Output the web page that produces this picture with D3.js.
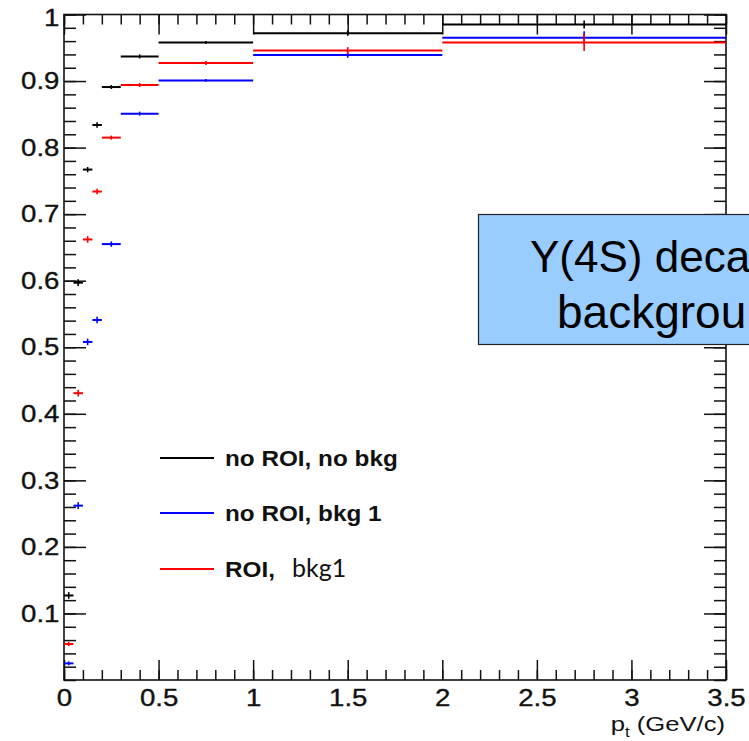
<!DOCTYPE html>
<html>
<head>
<meta charset="utf-8">
<script src="https://cdn.jsdelivr.net/npm/d3@7"></script>
<style>
body { margin: 0; background: #fff; }
svg { display: block; font-family: "Liberation Sans", Arial, sans-serif; }
.axis path { display: none; }
.axis line { stroke: #111; stroke-width: 1.5; }
.axis text { font-size: 24px; fill: #111; stroke: #111; stroke-width: 0.35; }
</style>
</head>
<body>
<svg id="chart" width="749" height="741"></svg>
<script>
// pt bins (GeV/c)
var binLo = [0, 0.05, 0.1, 0.15, 0.2, 0.3, 0.5, 1, 2];
var binHi = [0.05, 0.1, 0.15, 0.2, 0.3, 0.5, 1, 2, 3.5];

// efficiencies
var noRoiNoBkg  = [0.127, 0.597, 0.767, 0.834, 0.891, 0.937, 0.958, 0.972, 0.985];
var noRoiNoBkgE = [0.005, 0.005, 0.004, 0.004, 0.003, 0.003, 0.002, 0.004, 0.006];
var noRoiBkg1   = [0.025, 0.262, 0.508, 0.541, 0.655, 0.851, 0.901, 0.939, 0.965];
var noRoiBkg1E  = [0.003, 0.005, 0.005, 0.005, 0.004, 0.003, 0.002, 0.004, 0.010];
var roiBkg1     = [0.054, 0.431, 0.662, 0.734, 0.815, 0.894, 0.927, 0.946, 0.958];
var roiBkg1E    = [0.003, 0.005, 0.005, 0.004, 0.003, 0.003, 0.003, 0.005, 0.013];

var xMajor = [0, 0.5, 1, 1.5, 2, 2.5, 3, 3.5];
var yMajor = [0.1, 0.2, 0.3, 0.4, 0.5, 0.6, 0.7, 0.8, 0.9, 1];

var series = [
	{ name: "no ROI, no bkg", color: "#000000", val: noRoiNoBkg, err: noRoiNoBkgE },
	{ name: "no ROI, bkg 1",  color: "#0000ff", val: noRoiBkg1,  err: noRoiBkg1E },
	{ name: "ROI,",           color: "#ff0000", val: roiBkg1,    err: roiBkg1E, extra: "bkg1" }
];

var svg = d3.select("#chart");

// frame edges (window.top is reserved, so no "top" here)
var fLeft = 64, fRight = 726, fTop = 14.5, fBottom = 680;
var stretch = 1.15;	// the original picture is a bit wider than tall

var x = d3.scaleLinear().domain([0, 3.5]).range([fLeft, fRight]);
var y = d3.scaleLinear().domain([0, 1]).range([fBottom, fTop]);

var xMinor = d3.range(0, 3.501, 0.1).map(d => +d.toFixed(2));
var yMinor = d3.range(0, 1.001, 0.02).map(d => +d.toFixed(2));

// minor ticks, all four sides
svg.append("g").attr("class", "axis")
	.attr("transform", "translate(0," + fBottom + ")")
	.call(d3.axisBottom(x).tickValues(xMinor).tickSizeInner(-10).tickSizeOuter(0).tickFormat(""));
svg.append("g").attr("class", "axis")
	.attr("transform", "translate(0," + fTop + ")")
	.call(d3.axisTop(x).tickValues(xMinor).tickSizeInner(-10).tickSizeOuter(0).tickFormat(""));
svg.append("g").attr("class", "axis")
	.attr("transform", "translate(" + fLeft + ",0)")
	.call(d3.axisLeft(y).tickValues(yMinor).tickSizeInner(-12).tickSizeOuter(0).tickFormat(""));
svg.append("g").attr("class", "axis")
	.attr("transform", "translate(" + fRight + ",0)")
	.call(d3.axisRight(y).tickValues(yMinor).tickSizeInner(-12).tickSizeOuter(0).tickFormat(""));

// major ticks + labels
var xAx = svg.append("g").attr("class", "axis")
	.attr("transform", "translate(0," + fBottom + ")")
	.call(d3.axisBottom(x).tickValues(xMajor).tickSizeInner(-20).tickSizeOuter(0)
		.tickPadding(9).tickFormat(d3.format("")));
xAx.selectAll("text").attr("transform", "scale(" + stretch + ",1)");
svg.append("g").attr("class", "axis")
	.attr("transform", "translate(0," + fTop + ")")
	.call(d3.axisTop(x).tickValues(xMajor).tickSizeInner(-20).tickSizeOuter(0).tickFormat(""));
var yAx = svg.append("g").attr("class", "axis")
	.attr("transform", "translate(" + fLeft + ",0)")
	.call(d3.axisLeft(y).tickValues(yMajor).tickSizeInner(-22).tickSizeOuter(0)
		.tickPadding(4).tickFormat(d3.format("")));
yAx.selectAll("text").attr("transform", "scale(" + stretch + ",1)");
yAx.selectAll("text").filter(d => d == 1).attr("dy", "0.45em");
svg.append("g").attr("class", "axis")
	.attr("transform", "translate(" + fRight + ",0)")
	.call(d3.axisRight(y).tickValues(yMajor).tickSizeInner(-22).tickSizeOuter(0).tickFormat(""));

// frame
svg.append("rect")
	.attr("x", fLeft).attr("y", fTop)
	.attr("width", fRight - fLeft).attr("height", fBottom - fTop)
	.attr("fill", "none").attr("stroke", "#111").attr("stroke-width", 1.6);

// histograms drawn as error crosses
series.forEach(function(s) {
	var g = svg.append("g").attr("stroke", s.color).attr("stroke-width", 2);
	var idx = d3.range(binLo.length);
	g.selectAll("line.h").data(idx).enter().append("line")
		.attr("class", "h")
		.attr("x1", i => x(binLo[i])).attr("x2", i => x(binHi[i]))
		.attr("y1", i => y(s.val[i])).attr("y2", i => y(s.val[i]));
	g.selectAll("line.v").data(idx).enter().append("line")
		.attr("class", "v")
		.attr("stroke-width", 1.6)
		.attr("x1", i => x((binLo[i] + binHi[i]) / 2)).attr("x2", i => x((binLo[i] + binHi[i]) / 2))
		.attr("y1", i => y(s.val[i] - s.err[i])).attr("y2", i => y(s.val[i] + s.err[i]));
});

// legend
var legY = [458, 513, 569];
series.forEach(function(s, i) {
	svg.append("line")
		.attr("x1", 160).attr("x2", 214)
		.attr("y1", legY[i]).attr("y2", legY[i])
		.attr("stroke", s.color).attr("stroke-width", 1.8);
	svg.append("text")
		.attr("transform", "translate(225," + (legY[i] + 8) + ") scale(1.13,1)")
		.attr("font-size", "21.5px").attr("font-weight", "bold").attr("fill", "#111")
		.text(s.name);
	if (s.extra) {
		svg.append("text")
			.attr("x", 292).attr("y", legY[i] + 8)
			.attr("font-family", "Lato, 'Open Sans', sans-serif")
			.attr("font-size", "25px").attr("fill", "#111")
			.text(s.extra);
	}
});

// annotation box (runs off the right edge in the original)
svg.append("rect")
	.attr("x", 478.5).attr("y", 214.5)
	.attr("width", 300).attr("height", 130)
	.attr("fill", "#99ccff").attr("stroke", "#222").attr("stroke-width", 1.2);
svg.append("text")
	.attr("x", 530).attr("y", 272)
	.attr("font-size", "44px").attr("fill", "#000")
	.text("Y(4S) decays");
svg.append("text")
	.attr("x", 557).attr("y", 328)
	.attr("font-size", "46px").attr("fill", "#000")
	.text("background");

// x-axis title
var xt = svg.append("text")
	.attr("transform", "translate(725,731) scale(1.22,1)")
	.attr("text-anchor", "end")
	.attr("font-size", "21px").attr("fill", "#111");
xt.append("tspan").text("p");
xt.append("tspan").attr("font-size", "14px").attr("dy", 6).text("t");
xt.append("tspan").attr("dy", -6).text(" (GeV/c)");
</script>
</body>
</html>
